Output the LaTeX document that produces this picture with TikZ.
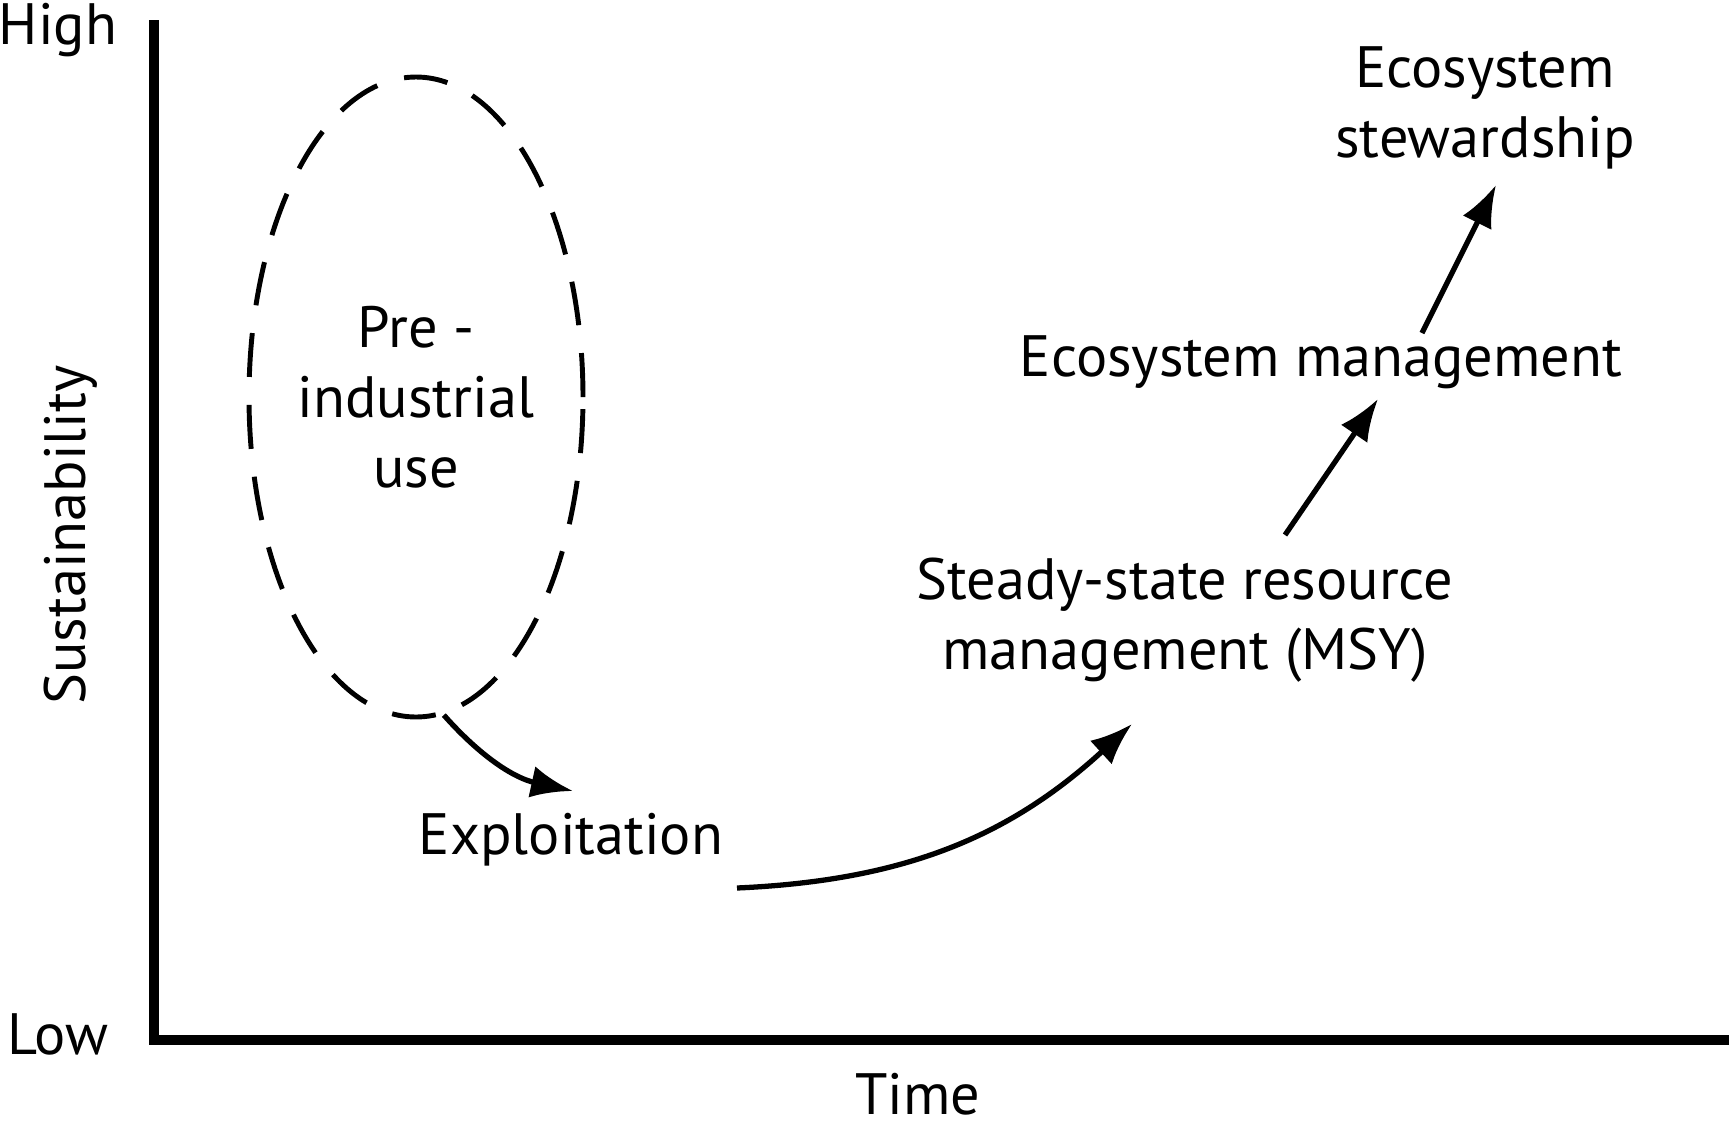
\documentclass[tikz,border=0pt]{standalone}
\usepackage{fontspec}
\setmainfont{PT Sans}
\usetikzlibrary{shapes.geometric}
\usetikzlibrary{positioning}
\usetikzlibrary{arrows.meta}
\tikzset{axis/.style={line width=2.6pt},
         lbl/.style={font=\fontsize{16.6}{20}\selectfont,align=center,inner sep=0pt},
         flow/.style={line width=1.5pt,-{Latex[length=4.2mm,width=3.2mm]}},
         phase/.style={draw,ellipse,dash pattern=on 4.4mm off 2.8mm,line width=1.4pt,
                       minimum width=3.04cm,minimum height=6.4cm},
         }

\begin{document}
\begin{tikzpicture}[x=0.1mm,y=-0.1mm]
\useasboundingbox (0,0) rectangle (1729,1124);
% axes
\coordinate (ytop) at (154,20);
\coordinate (orig) at (154,1040);
\coordinate (xend) at (1729,1040);
\draw[axis] (ytop) -- (orig) -- (xend);
\node[lbl] (high) at (58,30) {High};
\node[lbl] (low) at (58,1034) {Low};
\node[lbl] (time) at (918,1094) {Time};
\node[lbl,rotate=90] (sust) at (71,535) {Sustainability};
% stages
\node[phase,lbl] (preind) at (416,397) {Pre -\\industrial\\use};
\node[lbl] (expl) at (571,840) {Exploitation};
\node[lbl] (msy) at (1185,620) {Steady-state resource\\management (MSY)};
\node[lbl] (ecomgmt) at (1321,362) {Ecosystem management};
\node[lbl] (steward) at (1485,108) {Ecosystem\\stewardship};
% arrow ends
\coordinate (e1) at (573,791);
\coordinate (s2) at (737,888);
\coordinate (e2) at (1132,724);
\coordinate (s3) at (1285,535);
\coordinate (e3) at (1378,399);
\coordinate (s4) at (1422,333);
\coordinate (e4) at (1496,185);
\draw[flow] (preind.-85) to[bend right=18] (e1);
\draw[flow] (s2) to[bend right=20] (e2);
\draw[flow] (s3) -- (e3);
\draw[flow] (s4) -- (e4);
\end{tikzpicture}
\end{document}
